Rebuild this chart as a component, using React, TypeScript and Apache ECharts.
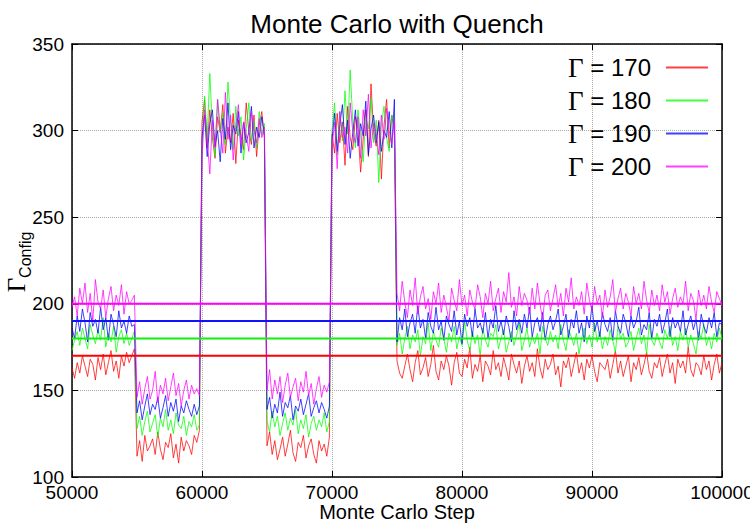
import React, { useEffect, useRef } from "react";
import * as echarts from "echarts";

const TITLE = "Monte Carlo with Quench";
const X_LABEL = "Monte Carlo Step";
const Y_SYMBOL = "Γ";
const Y_SUB = "Config";
const X_START = 50000;
const X_STEP = 200;
const X_MIN = 50000;
const X_MAX = 100000;
const X_TICK = 10000;
const Y_MIN = 100;
const Y_MAX = 350;
const Y_TICK = 50;

const GAMMAS = [170, 180, 190, 200];
const COLORS = ["#ff0000", "#00ff00", "#0000ff", "#ff00ff"];
const LINE_COLORS = ["#ff0000", "#11ee11", "#1111ff", "#ff00ff"];

// Γ_Config sampled every 200 steps, phases: base | low | high | low | high | base
const gamma170 = [
  163, 157, 166, 160, 170, 164, 158, 168, 165, 156, 169, 162, 171, 159, 166, 173, 161, 167, 157, 170, 164, 172, 166, 170, 174,
  112, 121, 109, 124, 115, 118, 122, 113, 126, 116, 110, 120, 117, 125, 111, 119, 108, 123, 115, 121, 118, 113, 124, 120, 127,
  305, 318, 290, 312, 296, 284, 308, 299, 315, 287, 302, 293, 310, 281, 306, 297, 289, 316, 300, 292, 309, 285, 303, 311, 296,
  118, 126, 113, 121, 110, 116, 123, 112, 119, 127, 114, 109, 120, 117, 124, 111, 118, 122, 113, 108, 121, 115, 119, 112, 123,
  298, 287, 310, 293, 305, 280, 314, 296, 289, 308, 301, 276, 295, 312, 285, 327, 299, 291, 306, 272, 303, 318, 290, 309, 300,
  167, 160, 157, 164, 171, 162, 155, 166, 173, 159,
  163, 169, 158, 165, 176, 161, 156, 167, 162, 170,
  164, 153, 166, 172, 160, 158, 168, 163, 175, 157,
  165, 161, 170, 155, 167, 164, 159, 173, 162, 166,
  158, 169, 163, 156, 171, 165, 160, 167, 154, 164,
  170, 161, 166, 158, 174, 163, 157, 168, 162, 165,
  171, 159, 164, 152, 167, 163, 169, 158, 165, 172,
  160, 166, 156, 168, 163, 170, 161, 155, 166, 164,
  162, 168, 157, 165, 173, 160, 167, 158, 164, 170,
  155, 166, 162, 169, 159, 165, 172, 161, 157, 166,
  163, 169, 158, 165, 171, 160, 166, 154, 168, 163,
  167, 160, 175, 162, 158, 166, 164, 159, 170, 162,
  167, 156, 165, 171, 160, 166,
];

const gamma180 = [
  173, 179, 184, 176, 186, 180, 174, 188, 182, 177, 185, 179, 192, 175, 183, 178, 187, 172, 181, 185, 177, 183, 176, 180, 184,
  128, 135, 124, 132, 138, 126, 131, 136, 123, 134, 129, 139, 127, 133, 125, 137, 130, 128, 135, 124, 132, 129, 136, 127, 130,
  288, 320, 296, 333, 302, 285, 318, 299, 310, 292, 328, 305, 289, 314, 297, 308, 283, 301, 316, 294, 306, 290, 311, 298, 304,
  132, 126, 138, 129, 135, 124, 131, 137, 127, 134, 130, 139, 125, 133, 128, 136, 123, 131, 135, 127, 133, 129, 137, 126, 132,
  300, 316, 286, 311, 294, 323, 298, 335, 305, 290, 312, 297, 282, 308, 301, 319, 293, 306, 270, 303, 314, 296, 288, 309, 302,
  176, 183, 171, 180, 187, 174, 182, 178, 185, 170,
  181, 177, 189, 173, 184, 179, 175, 186, 180, 172,
  183, 178, 187, 174, 181, 176, 190, 179, 173, 184,
  177, 182, 170, 186, 179, 175, 183, 181, 188, 174,
  180, 185, 172, 178, 184, 176, 182, 189, 173, 179,
  186, 175, 181, 177, 183, 171, 187, 180, 176, 184,
  178, 182, 174, 188, 179, 173, 185, 181, 176, 183,
  171, 180, 186, 177, 182, 175, 189, 178, 184, 174,
  181, 176, 185, 179, 172, 187, 180, 183, 175, 178,
  184, 173, 180, 186, 177, 182, 171, 188, 179, 176,
  183, 178, 174, 185, 180, 187, 176, 181, 173, 184,
  179, 186, 175, 182, 177, 171, 184, 180, 188, 176,
  181, 174, 183, 178, 186, 180,
];

const gamma190 = [
  186, 180, 193, 184, 197, 189, 178, 195, 187, 191, 183, 198, 185, 192, 179, 194, 188, 181, 196, 186, 190, 183, 193, 187, 188,
  137, 144, 133, 141, 148, 136, 142, 139, 146, 134, 140, 147, 135, 143, 138, 145, 132, 141, 137, 144, 139, 135, 142, 136, 141,
  296, 309, 285, 304, 312, 291, 300, 282, 307, 295, 316, 289, 303, 298, 311, 287, 305, 293, 299, 314, 290, 302, 296, 308, 297,
  139, 146, 134, 142, 137, 149, 135, 143, 140, 147, 133, 141, 138, 145, 136, 142, 148, 135, 140, 144, 137, 143, 139, 134, 141,
  295, 310, 288, 303, 315, 292, 306, 284, 299, 312, 291, 304, 297, 317, 286, 301, 309, 293, 305, 288, 300, 296, 311, 290, 318,
  178, 192, 185, 197, 181, 189, 194, 183, 199, 186,
  191, 180, 195, 187, 183, 198, 185, 190, 179, 193,
  188, 184, 196, 182, 190, 177, 194, 187, 192, 181,
  197, 186, 189, 183, 195, 180, 191, 186, 199, 184,
  190, 182, 193, 187, 178, 196, 185, 191, 183, 194,
  186, 198, 181, 189, 192, 184, 195, 179, 188, 193,
  185, 190, 197, 182, 187, 194, 180, 191, 186, 196,
  183, 189, 178, 193, 186, 199, 184, 190, 181, 195,
  188, 184, 192, 179, 196, 187, 183, 194, 189, 181,
  193, 186, 190, 198, 182, 188, 185, 195, 180, 191,
  187, 194, 183, 189, 197, 181, 192, 186, 190, 184,
  196, 182, 188, 193, 185, 191, 179, 194, 187, 183,
  192, 186, 195, 181, 189, 188,
];

const gamma200 = [
  198, 204, 193, 209, 200, 212, 195, 206, 190, 214, 201, 197, 208, 192, 203, 210, 196, 205, 199, 211, 194, 207, 200, 202, 205,
  146, 155, 142, 151, 158, 145, 150, 161, 143, 153, 148, 157, 144, 152, 160, 147, 154, 141, 150, 156, 145, 153, 148, 151, 147,
  284, 312, 296, 275, 306, 290, 318, 301, 287, 322, 295, 309, 283, 303, 315, 292, 305, 298, 288, 311, 300, 293, 307, 296, 302,
  150, 162, 145, 156, 148, 158, 143, 153, 160, 146, 152, 157, 144, 155, 149, 161, 147, 154, 142, 151, 158, 146, 153, 149, 155,
  290, 305, 278, 311, 296, 302, 287, 316, 299, 293, 308, 284, 312, 297, 321, 290, 304, 298, 286, 309, 295, 313, 300, 292, 306,
  206, 196, 213, 201, 192, 208, 199, 215, 194, 204,
  210, 197, 203, 191, 207, 200, 212, 195, 205, 198,
  190, 209, 202, 196, 214, 199, 205, 193, 208, 201,
  197, 211, 204, 192, 206, 200, 213, 196, 203, 209,
  195, 207, 201, 218, 198, 204, 193, 210, 199, 206,
  202, 194, 209, 197, 212, 200, 191, 205, 208, 196,
  203, 211, 198, 206, 193, 209, 201, 215, 197, 204,
  199, 207, 194, 212, 202, 196, 210, 200, 205, 192,
  208, 198, 204, 214, 195, 203, 209, 197, 206, 201,
  193, 210, 200, 206, 197, 213, 202, 195, 208, 199,
  205, 196, 211, 201, 207, 194, 203, 209, 198, 204,
  200, 213, 196, 206, 202, 191, 208, 199, 205, 197,
  210, 201, 195, 207, 203, 199,
];

const SERIES_VALUES = [gamma170, gamma180, gamma190, gamma200];
const FONT = "'Liberation Sans', Arial, Helvetica, sans-serif";
const SERIF = "'Liberation Serif', 'Times New Roman', serif";

export default function App() {
  const ref = useRef<HTMLDivElement>(null);

  useEffect(() => {
    if (!ref.current) return;
    const chart = echarts.init(ref.current, null, { renderer: "svg" });
    const names = GAMMAS.map((g) => `Γ = ${g}`);

    const dataSeries = SERIES_VALUES.map((vals, i) => ({
      type: "line",
      name: names[i],
      data: vals.map((v, k) => [X_START + k * X_STEP, v]),
      symbol: "none",
      showSymbol: false,
      lineStyle: { width: 1, color: COLORS[i], opacity: 0.75 },
      itemStyle: { color: COLORS[i] },
      z: 2,
      silent: true,
    }));

    const constSeries = GAMMAS.map((g, i) => ({
      type: "line",
      data: [
        [X_MIN, g],
        [X_MAX, g],
      ],
      symbol: "none",
      lineStyle: { width: 2, color: LINE_COLORS[i] },
      z: 3,
      silent: true,
    }));

    const tickStyle = { inside: true, length: 6, lineStyle: { color: "#000", width: 1 } };
    const lineStyle = { show: true, lineStyle: { color: "#000", width: 1.5 } };
    const splitStyle = { show: true, lineStyle: { color: "#aaaaaa", type: "dotted", width: 1 } };
    const plain = (v: number) => String(v);

    chart.setOption({
      animation: false,
      backgroundColor: "#ffffff",
      grid: { left: 72, right: 28, top: 44, bottom: 48, containLabel: false, outerBoundsMode: "none" },
      xAxis: [
        {
          type: "value",
          min: X_MIN,
          max: X_MAX,
          interval: X_TICK,
          axisLine: lineStyle,
          axisTick: tickStyle,
          splitLine: splitStyle,
          axisLabel: { color: "#000", fontSize: 19, fontFamily: FONT, margin: 6, formatter: plain, hideOverlap: false },
          name: X_LABEL,
          nameLocation: "middle",
          nameGap: 25,
          nameMoveOverlap: false,
          nameTextStyle: { color: "#000", fontSize: 20, fontFamily: FONT, verticalAlign: "top" },
        },
        {
          type: "value",
          position: "top",
          min: X_MIN,
          max: X_MAX,
          interval: X_TICK,
          axisLine: lineStyle,
          axisTick: tickStyle,
          splitLine: { show: false },
          axisLabel: { show: false },
        },
      ],
      yAxis: [
        {
          type: "value",
          min: Y_MIN,
          max: Y_MAX,
          interval: Y_TICK,
          axisLine: lineStyle,
          axisTick: tickStyle,
          splitLine: splitStyle,
          axisLabel: { color: "#000", fontSize: 19, fontFamily: FONT, margin: 8, formatter: plain },
        },
        {
          type: "value",
          position: "right",
          min: Y_MIN,
          max: Y_MAX,
          interval: Y_TICK,
          axisLine: lineStyle,
          axisTick: tickStyle,
          splitLine: { show: false },
          axisLabel: { show: false },
        },
      ],
      legend: {
        data: names,
        orient: "vertical",
        right: 36,
        top: 49,
        align: "right",
        itemWidth: 42,
        itemHeight: 14,
        itemGap: 6,
        selectedMode: false,
        itemStyle: { opacity: 0 },
        formatter: (name: string) => `{g|${Y_SYMBOL}}{t|${name.slice(1)}}`,
        textStyle: {
          color: "#000",
          fontSize: 24,
          lineHeight: 26,
          fontFamily: FONT,
          padding: [0, 10, 0, 0],
          rich: {
            g: { fontFamily: SERIF, fontSize: 27, lineHeight: 26, color: "#000" },
            t: { fontFamily: FONT, fontSize: 24, lineHeight: 26, color: "#000" },
          },
        },
      },
      graphic: [
        {
          type: "text",
          x: 397,
          y: 24,
          style: {
            text: TITLE,
            fill: "#000",
            fontSize: 26,
            fontFamily: FONT,
            align: "center",
            verticalAlign: "middle",
            textAlign: "center",
            textVerticalAlign: "middle",
          },
        },
        {
          type: "text",
          x: 16,
          y: 262,
          rotation: Math.PI / 2,
          style: {
            text: `{g|${Y_SYMBOL}}{s|${Y_SUB}}`,
            fill: "#000",
            align: "center",
            verticalAlign: "middle",
            textAlign: "center",
            textVerticalAlign: "middle",
            rich: {
              g: { fontFamily: SERIF, fontSize: 25, lineHeight: 24, verticalAlign: "top", fill: "#000" },
              s: { fontFamily: FONT, fontSize: 16, lineHeight: 16, padding: [13, 0, 0, 0], verticalAlign: "top", fill: "#000" },
            },
          },
        },
      ],
      series: [...dataSeries, ...constSeries],
    });

    return () => chart.dispose();
  }, []);

  return (
    <div
      ref={ref}
      style={{ position: "absolute", left: 0, top: 0, width: 750, height: 525, background: "#fff" }}
    />
  );
}
